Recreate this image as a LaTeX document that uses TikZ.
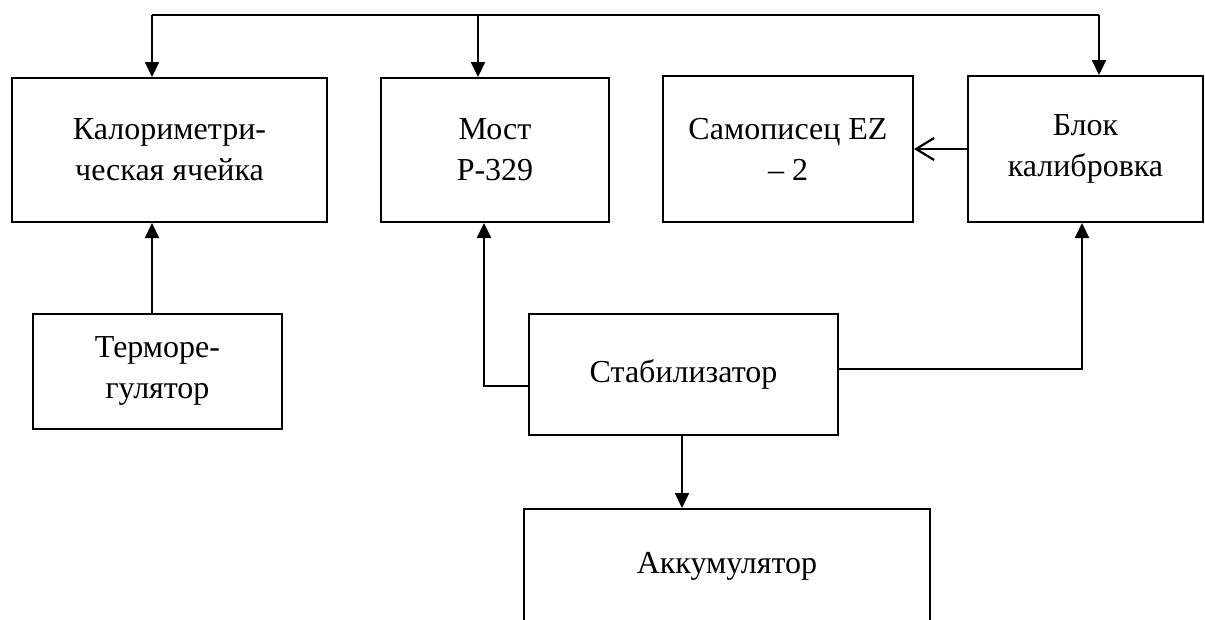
\documentclass[tikz,border=0pt]{standalone}
\usepackage{fontspec}
\setmainfont{Liberation Serif}
\usetikzlibrary{arrows.meta}
\tikzset{
  blk/.style={draw, line width=2pt, inner sep=0pt, align=center,
    font=\fontsize{32}{41}\selectfont},
  arr/.style={line width=2.2pt, -{Triangle[length=15pt,width=14pt]}},
  oarr/.style={line width=2.2pt, -{Straight Barb[length=18pt,width=22pt,line width=2.2pt]}},
  wire/.style={line width=2.2pt}
}
\begin{document}
\begin{tikzpicture}[x=1pt,y=-1pt]
\clip (0,0) rectangle (1205,619);
\fill[white] (0,0) rectangle (1205,619);
% boxes
\node[blk, minimum width=315pt, minimum height=144pt] (kal) at (169.5,150) {Калориметри-\\ческая ячейка};
\node[blk, minimum width=228pt, minimum height=144pt] (most) at (495,150) {Мост\\Р-329};
\node[blk, minimum width=250pt, minimum height=146pt] (samo) at (788,149) {Самописец EZ\\– 2};
\node[blk, minimum width=235pt, minimum height=146pt] (blok) at (1085.5,149) {Блок\\калибровка};
\node[blk, minimum width=249pt, minimum height=115pt] (term) at (157.5,371) {Терморе-\\гулятор};
\node[blk, minimum width=309pt, minimum height=121pt] (stab) at (683.5,374) {Стабилизатор};
\node[blk, minimum width=406pt, minimum height=114pt] (akk) at (727,566) {Аккумулятор};
% bus
\coordinate (busL) at (152,15);
\coordinate (busM) at (478,15);
\coordinate (busR) at (1099,15);
\draw[wire] (busL) -- (busR);
\draw[arr] (busL) -- (busL |- kal.north);
\draw[arr] (busM) -- (busM |- most.north);
\draw[arr] (busR) -- (busR |- blok.north);
% termoregulator -> kal
\draw[arr] (term.north -| busL) -- (kal.south -| busL);
% stabilizer connections
\coordinate (sm) at (484,386);
\coordinate (sb) at (1082,369);
\draw[arr] (stab.west |- sm) -- (sm) -- (sm |- most.south);
\draw[arr] (stab.east |- sb) -- (sb) -- (sb |- blok.south);
\coordinate (sa) at (682,434);
\draw[arr] (sa) -- (sa |- akk.north);
% blok -> samopisec
\draw[oarr] (blok.west) -- (samo.east);
\end{tikzpicture}
\end{document}
